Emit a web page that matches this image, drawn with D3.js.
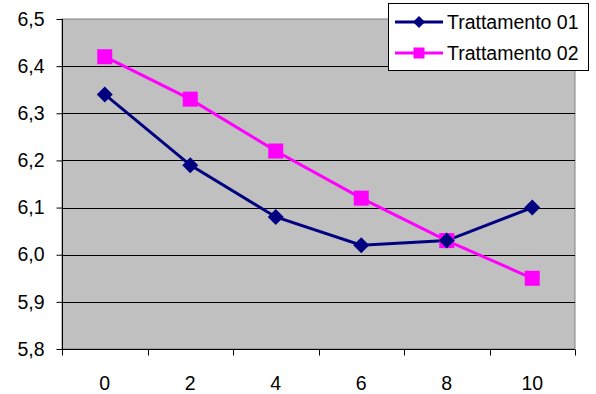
<!DOCTYPE html>
<html><head><meta charset="utf-8">
<script src="https://cdn.jsdelivr.net/npm/d3@7"></script>
<style>body{margin:0;background:#fff}svg{display:block}text{font-family:"Liberation Sans",Arial,sans-serif}</style>
</head><body>
<script>
const categories = ["0","2","4","6","8","10"];
const seriesNames = ["Trattamento 01","Trattamento 02"];
const t1 = [6.34, 6.19, 6.08, 6.02, 6.03, 6.10];
const t2 = [6.42, 6.33, 6.22, 6.12, 6.03, 5.95];
const yTicks = [5.8,5.9,6.0,6.1,6.2,6.3,6.4,6.5];
const colors = ["#000080","#FF00FF"];

const W=596,H=394, L=62, R=575, T=19, B=349, FS=19.5;
const svg=d3.select("body").append("svg").attr("width",W).attr("height",H);
const x=d3.scaleBand().domain(categories).range([L,R]);
const y=d3.scaleLinear().domain([5.8,6.5]).range([B,T]);
const fmt=d=>d3.format(".1f")(d).replace(".",",");

svg.append("rect").attr("x",L).attr("y",T).attr("width",R-L).attr("height",B-T).attr("fill","#C0C0C0").attr("stroke","#808080").attr("stroke-width",1);
svg.append("g").selectAll("line").data(yTicks.slice(1,-1)).join("line")
  .attr("x1",L).attr("x2",R).attr("y1",d=>Math.round(y(d))+0.5).attr("y2",d=>Math.round(y(d))+0.5).attr("stroke","#000").attr("stroke-width",1);

const ya=svg.append("g").attr("transform",`translate(${L+0.5},0)`).call(d3.axisLeft(y).tickValues(yTicks).tickFormat(fmt).tickSize(6).tickPadding(12));
ya.select(".domain").attr("stroke","#000").attr("d",`M0,${T}V${B}`);
ya.selectAll("text").attr("font-size",FS).attr("fill","#000").attr("font-family","Liberation Sans, Arial, sans-serif");

const xa=svg.append("g").attr("transform",`translate(0,${B+0.5})`);
xa.append("line").attr("x1",L).attr("x2",R).attr("stroke","#000");
const bounds=categories.map(c=>x(c)).concat([R]);
xa.selectAll("line.t").data(bounds).join("line").attr("class","t").attr("x1",d=>Math.round(d)+0.5).attr("x2",d=>Math.round(d)+0.5).attr("y1",0).attr("y2",6).attr("stroke","#000");
xa.selectAll("text").data(categories).join("text").attr("x",d=>x(d)+x.bandwidth()/2).attr("y",40).attr("text-anchor","middle").attr("font-size",FS).text(d=>d);

const line=d3.line().x((d,i)=>x(categories[i])+x.bandwidth()/2).y(d=>y(d));
svg.append("path").datum(t2).attr("d",line).attr("fill","none").attr("stroke",colors[1]).attr("stroke-width",3);
svg.append("path").datum(t1).attr("d",line).attr("fill","none").attr("stroke",colors[0]).attr("stroke-width",3);
function sq(g,cx,cy,s,c){g.append("rect").attr("x",cx-s/2).attr("y",cy-s/2).attr("width",s).attr("height",s).attr("fill",c);}
function dia(g,cx,cy,s,c){g.append("path").attr("d",`M${cx},${cy-s}L${cx+s},${cy}L${cx},${cy+s}L${cx-s},${cy}Z`).attr("fill",c);}
t2.forEach((v,i)=>sq(svg,x(categories[i])+x.bandwidth()/2,y(v),15,colors[1]));
t1.forEach((v,i)=>dia(svg,x(categories[i])+x.bandwidth()/2,y(v),8,colors[0]));

const lg=svg.append("g");
lg.append("rect").attr("x",388.5).attr("y",3.5).attr("width",200).attr("height",67).attr("fill","#fff").attr("stroke","#000");
seriesNames.forEach((n,i)=>{
  const cy=i===0?22:53;
  lg.append("line").attr("x1",395).attr("x2",443).attr("y1",cy).attr("y2",cy).attr("stroke",colors[i]).attr("stroke-width",3);
  if(i===0) dia(lg,419,cy,6,colors[0]); else sq(lg,419,cy,11,colors[1]);
  lg.append("text").attr("x",447).attr("y",cy+7).attr("font-size",FS).text(n);
});
</script>
</body></html>
